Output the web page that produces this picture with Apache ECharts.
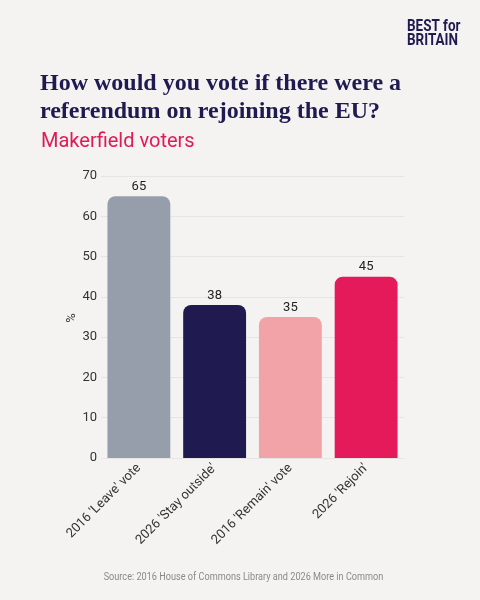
<!DOCTYPE html>
<html><head><meta charset="utf-8">
<script src="https://cdn.jsdelivr.net/npm/echarts@6/dist/echarts.min.js"></script>
<style>html,body{margin:0;padding:0;background:#f4f3f1;}#c{width:480px;height:600px;}</style>
</head><body><div id="c"></div>
<script>
const categories = ["2016 'Leave' vote", "2026 'Stay outside'", "2016 'Remain' vote", "2026 'Rejoin'"];
const values = [65, 38, 35, 45];
const barColors = ["#969eab", "#1f1a4f", "#f2a3a8", "#e51a5a"];
const yTicks = [0, 10, 20, 30, 40, 50, 60, 70];
const yName = '%';

const chart = echarts.init(document.getElementById('c'));
chart.setOption({
  backgroundColor: '#f4f3f1',
  animation: false,
  title: [
    {text: 'How would you vote if there were a\nreferendum on rejoining the EU?', left: 35, top: 65,
     textStyle: {fontFamily: 'Liberation Serif', fontWeight: 'bold', fontSize: 24, lineHeight: 28, color: '#1f1a4f'}},
    {text: 'Makerfield voters', left: 36, top: 127,
     textStyle: {fontFamily: 'Roboto', fontWeight: 'normal', fontSize: 20, color: '#e0195a'}}
  ],
  graphic: [
    {type: 'text', x: 407, y: 19, scaleX: 0.84,
     style: {text: 'BEST for', font: 'bold 16px Roboto', fill: '#1f1a4f'}},
    {type: 'text', x: 407, y: 33, scaleX: 0.84,
     style: {text: 'BRITAIN', font: 'bold 16px Roboto', fill: '#1f1a4f'}},
    {type: 'text', x: 243.5, y: 572, scaleX: 0.87,
     style: {text: 'Source: 2016 House of Commons Library and 2026 More in Common', font: '10.5px Roboto', fill: '#8a8a8a', textAlign: 'center'}},
    {type: 'text', x: 72, y: 318, rotation: Math.PI / 2,
     style: {text: yName, font: '13px Roboto', fill: '#333', textAlign: 'center', textVerticalAlign: 'middle'}}
  ],
  grid: {left: 101, right: 76, top: 176, bottom: 142},
  xAxis: {
    type: 'category', data: categories,
    axisLine: {show: false}, axisTick: {show: false},
    axisLabel: {rotate: 45, interval: 0, margin: 8, fontFamily: 'Roboto', fontSize: 13, color: '#333'}
  },
  yAxis: {
    type: 'value', min: 0, max: 70, interval: 10,
    axisLabel: {fontFamily: 'Roboto', fontSize: 13, color: '#333', margin: 4,
      formatter: v => yTicks.includes(v) ? String(v) : ''},
    splitLine: {lineStyle: {color: '#e6e5e3', width: 1}}
  },
  series: [{
    type: 'bar', data: values.map((v, i) => ({value: v, itemStyle: {color: barColors[i]}})),
    barCategoryGap: '17%',
    itemStyle: {borderRadius: [8, 8, 0, 0]},
    label: {show: true, position: 'top', distance: 3, fontFamily: 'Roboto', fontSize: 13, color: '#222'}
  }]
});
</script></body></html>
